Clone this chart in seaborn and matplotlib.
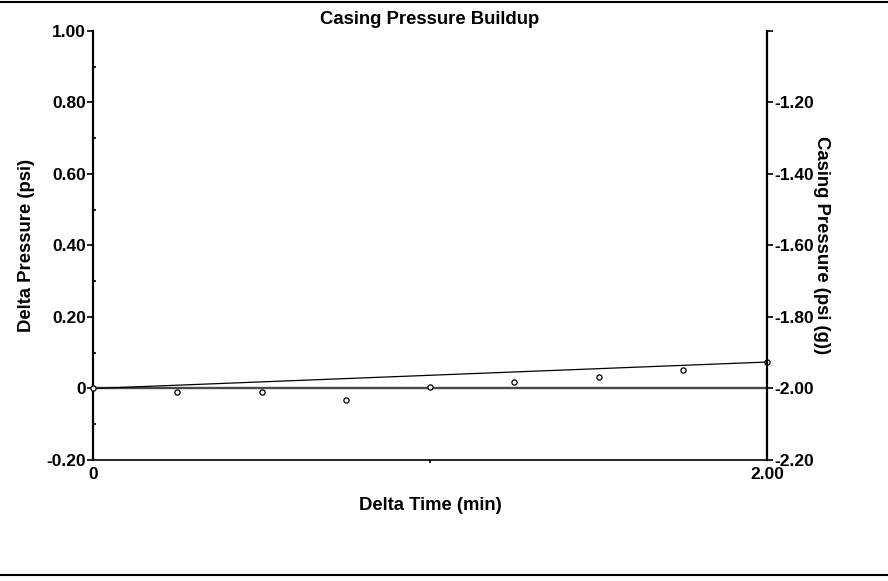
import matplotlib
matplotlib.use("Agg")
import matplotlib.pyplot as plt
import seaborn as sns
import pandas as pd
from matplotlib.lines import Line2D
from matplotlib.ticker import FixedLocator

sns.set_theme(style="white")
plt.rcParams['font.family'] = ['Liberation Sans', 'DejaVu Sans']
plt.rcParams['text.color'] = 'black'
plt.rcParams['axes.labelcolor'] = 'black'
plt.rcParams['xtick.color'] = 'black'
plt.rcParams['ytick.color'] = 'black'

# Data
delta_time = [0.0, 0.25, 0.5, 0.75, 1.0, 1.25, 1.5, 1.75, 2.0]
delta_pressure = [0.0, -0.010, -0.010, -0.032, 0.003, 0.018, 0.032, 0.053, 0.074]
fit_time = [0.0, 2.0]
fit_pressure = [0.0, 0.074]
zero_time = [0.0, 2.0]
zero_pressure = [0.0, 0.0]
left_ticks = [-0.2, 0.0, 0.2, 0.4, 0.6, 0.8, 1.0]
left_labels = ["-0.20", "0", "0.20", "0.40", "0.60", "0.80", "1.00"]
right_ticks = [-2.2, -2.0, -1.8, -1.6, -1.4, -1.2, -1.0]
right_labels = ["-2.20", "-2.00", "-1.80", "-1.60", "-1.40", "-1.20", ""]
x_ticks = [0.0, 2.0]
x_labels = ["0", "2.00"]
casing_offset = -2.0

df = pd.DataFrame({"t": delta_time, "p": delta_pressure})
fit = pd.DataFrame({"t": fit_time, "p": fit_pressure})
zero = pd.DataFrame({"t": zero_time, "p": zero_pressure})

TICK_FS = 12.5
LAB_FS = 13.3

fig = plt.figure(figsize=(8.88, 5.81), dpi=100)
ax = fig.add_axes([93/888, 1-460/581, (767-93)/888, (460-31)/581])

sns.lineplot(data=zero, x="t", y="p", ax=ax, color="#4a4a4a", linewidth=1.7)
sns.lineplot(data=fit, x="t", y="p", ax=ax, color="black", linewidth=0.9)
sns.scatterplot(data=df, x="t", y="p", ax=ax, marker="o", s=14,
                facecolor="white", edgecolor="black", linewidth=0.9,
                zorder=5, clip_on=False)

ax.set_xlim(0, 2.0)
ax.set_ylim(-0.2, 1.0)
ax.set_yticks(left_ticks)
ax.set_yticklabels(left_labels)
ax.set_xticks(x_ticks)
ax.set_xticklabels(x_labels)
ax.yaxis.set_minor_locator(FixedLocator([-0.1, 0.1, 0.3, 0.5, 0.7, 0.9]))
ax.xaxis.set_minor_locator(FixedLocator([1.0]))
ax.tick_params(axis="y", which="major", direction="out", length=4, width=1.2,
               labelsize=TICK_FS, pad=1, color="black")
ax.tick_params(axis="y", which="minor", direction="in", length=2.5, width=1.2,
               left=True, color="black")
ax.tick_params(axis="x", which="major", direction="out", length=0, width=1.2,
               labelsize=TICK_FS, pad=5, color="black")
ax.tick_params(axis="x", which="minor", direction="out", length=2.5, width=1.2,
               bottom=True, color="black")
for lab in ax.get_xticklabels() + ax.get_yticklabels():
    lab.set_fontweight("bold")

ax.spines["top"].set_visible(False)
ax.spines["right"].set_visible(False)
ax.spines["left"].set_linewidth(1.6)
ax.spines["bottom"].set_linewidth(1.2)
for s in ["left", "bottom"]:
    ax.spines[s].set_color("black")

ax.set_xlabel("Delta Time (min)", fontsize=LAB_FS, fontweight="bold", labelpad=11)
ax.set_ylabel("Delta Pressure (psi)", fontsize=LAB_FS, fontweight="bold", labelpad=8)
ax.set_title("Casing Pressure Buildup", fontsize=LAB_FS, fontweight="bold", pad=5)

ax2 = ax.twinx()
ax2.set_ylim(-0.2 + casing_offset, 1.0 + casing_offset)
ax2.set_yticks(right_ticks)
ax2.set_yticklabels(right_labels)
ax2.tick_params(axis="y", direction="out", length=4, width=1.2, labelsize=TICK_FS,
                pad=1, color="black", right=True)
for lab in ax2.get_yticklabels():
    lab.set_fontweight("bold")
for s in ["top", "left", "bottom"]:
    ax2.spines[s].set_visible(False)
ax2.spines["right"].set_linewidth(1.6)
ax2.spines["right"].set_color("black")
ax2.set_ylabel("Casing Pressure (psi (g))", fontsize=LAB_FS, fontweight="bold",
               rotation=270, labelpad=12)
ax2.grid(False)
ax.grid(False)

fig.add_artist(Line2D([0, 1], [1-2/581, 1-2/581], color="black", linewidth=1.5))
fig.add_artist(Line2D([0, 1], [1-575/581, 1-575/581], color="black", linewidth=1.5))

fig.savefig("out.png", dpi=100)
